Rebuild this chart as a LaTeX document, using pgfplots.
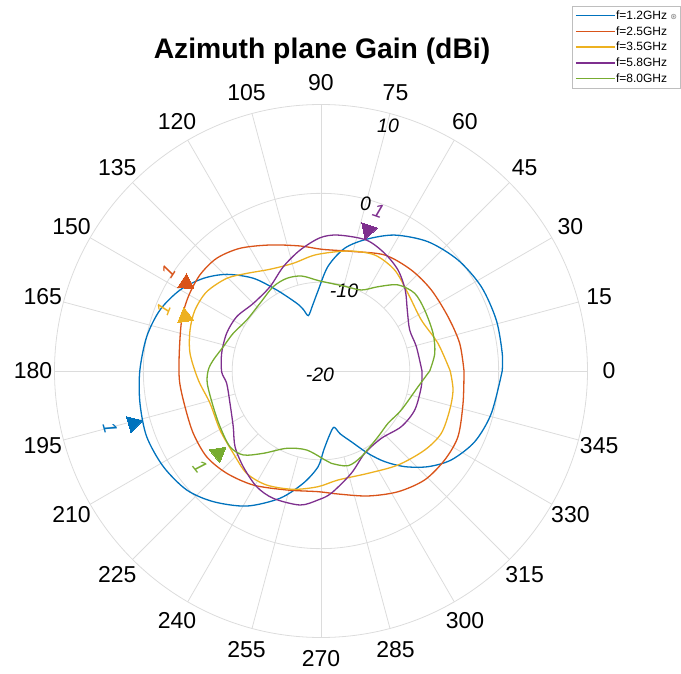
\documentclass[border=0pt]{standalone}
\usepackage{pgfplots}
\pgfplotsset{compat=1.18}
\usepgfplotslibrary{polar}
\usepackage{fontspec}
\setmainfont{Liberation Sans}
\newfontfamily\dejavu{DejaVu Sans}
\definecolor{mblue}{RGB}{0,114,189}
\definecolor{morange}{RGB}{217,83,25}
\definecolor{myellow}{RGB}{237,177,32}
\definecolor{mpurple}{RGB}{126,47,142}
\definecolor{mgreen}{RGB}{119,172,48}
\definecolor{gridgray}{RGB}{220,220,220}
\definecolor{leggray}{RGB}{190,190,190}
\begin{document}
\begin{tikzpicture}
\useasboundingbox (0pt,0pt) rectangle (681pt,673pt);
\node[font=\fontsize{28.3}{29}\selectfont\bfseries, anchor=base] at (322pt,614.5pt) {Azimuth plane Gain (dBi)};
\begin{polaraxis}[
  at={(321pt,302pt)}, anchor=center,
  width=533pt, height=533pt, scale only axis,
  xmin=0, xmax=360, ymin=0, ymax=30,
  xtick=\empty, ytick={10,20}, yticklabels={},
  ymajorgrids, y grid style={gridgray, line width=0.8pt},
  axis line style={draw=gridgray, line width=0.8pt},
  major tick length=0pt,
  clip=false,
  every axis plot/.append style={line width=1.3pt, smooth, tension=0.5, y filter/.expression={y+20}},
  legend style={at={(0.9709,1.1848)}, anchor=north west, draw=leggray, fill=white,
    font=\fontsize{12}{12}\selectfont, inner xsep=3pt, inner ysep=4pt, row sep=4.5pt,
    nodes={inner sep=0.5pt, anchor=west},
    /tikz/every even column/.append style={column sep=1.5pt}},
  legend cell align=left,
  legend image code/.code={\draw[#1, line width=1.4pt] (0pt,0pt) -- (39pt,0pt);},
]
\pgfplotsinvokeforeach{0,15,...,345}{\draw[gridgray, line width=0.8pt] (axis cs:#1,10) -- (axis cs:#1,30);}
\pgfplotsinvokeforeach{0,15,...,345}{\node[font=\fontsize{23}{23}\selectfont, inner sep=0pt] at (axis cs:#1,32.42) {#1};}
\node[font=\fontsize{19.5}{20}\selectfont\itshape, inner sep=0pt] at (axis cs:74.7,28.6) {10};
\node[font=\fontsize{19.5}{20}\selectfont\itshape, inner sep=0pt] at (axis cs:75.1,19.5) {0};
\node[font=\fontsize{19.5}{20}\selectfont\itshape, inner sep=0pt] at (axis cs:74,9.42) {-10};
\node[font=\fontsize{19.5}{20}\selectfont\itshape, inner sep=0pt, yshift=-4pt, xshift=-1pt] at (axis cs:0,0) {-20};

% f = 1.2 GHz
\addplot[mblue] coordinates {
(0,0.4)(5.6,0.5)(16.2,0.55)(27.7,0.39)(39,-0.15)(50.4,-1.11)(61.5,-2.59)(71,-4.32)(79.1,-5.93)(86.2,-8.2)(92.2,-11.0)(97.5,-12.6)(102.9,-13.6)(106,-12.8)(109.7,-11.9)(118.7,-9.6)(126.1,-7.08)(134.3,-4.8)(141.8,-3.14)(150.1,-1.7)(159.2,-0.62)(168.9,0.0)(180,0.4)(190.1,0.7)(200.6,0.97)(211.2,0.76)(221.5,0.2)(230.5,-0.94)(241.2,-2.65)(252.1,-4.94)(261,-7.2)(268.2,-9.2)(272,-11.1)(277.5,-12.7)(283,-13.5)(287,-12.6)(293.2,-11.34)(299.7,-9.33)(305.1,-7.53)(311.2,-5.69)(318.2,-3.84)(325.7,-2.24)(335.3,-0.95)(346,-0.24)(360,0.4)};
\addlegendentry{f=1.2GHz {\dejavu\fontsize{8}{8}\selectfont\color{gray}⊛}}
% f = 2.5 GHz
\addplot[morange] coordinates {
(0,-3.9)(11.3,-4.08)(23.2,-4.45)(36.3,-4.59)(48.2,-4.75)(61.2,-5.1)(75.6,-6.1)(89.5,-6.3)(99.5,-5.73)(112,-4.7)(123.4,-3.45)(132.8,-2.71)(141.6,-2.6)(150.8,-2.88)(159.9,-3.3)(172.9,-3.92)(184,-4.03)(194.7,-4.17)(206,-4.0)(216.9,-3.91)(227.3,-4.34)(239.3,-5.07)(253.9,-6.06)(268.6,-6.41)(277.9,-6.02)(290.6,-4.97)(302.5,-3.88)(313.6,-3.07)(324.3,-2.85)(334.4,-2.9)(347.2,-3.6)(360,-3.9)};
\addlegendentry{f=2.5GHz}
% f = 3.5 GHz
\addplot[myellow] coordinates {
(0,-5.45)(13.3,-6.47)(27,-7.33)(41.8,-6.87)(53.9,-5.93)(65.2,-5.61)(77.3,-6.15)(92.5,-6.9)(104.4,-7.48)(116.6,-7.19)(127.3,-6.19)(135.5,-5.12)(145.3,-4.34)(154.2,-4.24)(162.6,-4.55)(172.3,-5.12)(184.2,-6.15)(196.2,-6.99)(210.3,-6.83)(223.2,-6.46)(234,-5.76)(244.5,-5.78)(256.8,-6.32)(268.5,-6.97)(278.9,-7.58)(294.7,-7.32)(309.3,-6.32)(322.7,-5.32)(332.6,-4.75)(343.1,-4.86)(351.8,-4.98)(360,-5.45)};
\addlegendentry{f=3.5GHz}
% f = 5.8 GHz
\addplot[mpurple] coordinates {
(0,-8.63)(14.3,-8.92)(24.8,-9.0)(35.3,-8.1)(43.9,-6.84)(52.7,-5.7)(61.6,-4.94)(70.9,-4.4)(82.9,-4.58)(90.4,-5.0)(99.8,-6.18)(109.9,-7.52)(121.2,-8.91)(135,-9.23)(147.2,-8.71)(158.2,-8.56)(169.9,-8.64)(180.6,-8.82)(187.4,-9.29)(199.5,-9.13)(212.4,-8.3)(221.4,-7.1)(230.9,-6.12)(240.9,-5.1)(249.5,-4.69)(261.1,-4.73)(268.7,-5.48)(274.8,-6.19)(286.5,-7.99)(297.9,-9.5)(311.9,-9.82)(325.3,-9.0)(337.4,-8.57)(351.1,-8.57)(360,-8.63)};
\addlegendentry{f=5.8GHz}
% f = 8.0 GHz
\addplot[mgreen] coordinates {
(0,-7.76)(8.8,-7.04)(18.6,-6.69)(30.5,-6.46)(39.7,-6.3)(48.2,-7.0)(55.9,-8.54)(63.5,-9.81)(75,-10.1)(91,-9.85)(101.5,-9.09)(110.3,-8.88)(119.5,-9.09)(132,-9.74)(145.5,-9.86)(156.7,-9.25)(166,-8.67)(174.2,-7.81)(179.5,-7.31)(186.2,-7.12)(198.3,-7.22)(208.9,-7.02)(219.8,-6.67)(227.2,-7.12)(235,-8.69)(246.1,-10.48)(259.7,-10.96)(272.6,-9.97)(276.4,-9.54)(285.9,-8.91)(295.2,-9.34)(310.9,-10.2)(322,-10.43)(334.1,-9.95)(350.8,-8.93)(360,-7.76)};
\addlegendentry{f=8.0GHz}

% peak markers
\addplot[forget plot, draw=none, mark=triangle*, mark size=9.5pt, mark options={fill=mblue, draw=mblue, line width=0pt, rotate=285.6}] coordinates {(195.6,1.93)};
\addplot[forget plot, draw=none, mark=triangle*, mark size=9.5pt, mark options={fill=morange, draw=morange, line width=0pt, rotate=237}] coordinates {(147,-1.88)};
\addplot[forget plot, draw=none, mark=triangle*, mark size=9.5pt, mark options={fill=myellow, draw=myellow, line width=0pt, rotate=248.2}] coordinates {(158.2,-3.52)};
\addplot[forget plot, draw=none, mark=triangle*, mark size=9.5pt, mark options={fill=mpurple, draw=mpurple, line width=0pt, rotate=161.5}] coordinates {(71.5,-3.26)};
\addplot[forget plot, draw=none, mark=triangle*, mark size=9.5pt, mark options={fill=mgreen, draw=mgreen, line width=0pt, rotate=308.7}] coordinates {(218.7,-5.18)};
\node[font=\fontsize{19}{19}\selectfont\itshape, text=mblue, rotate=-74.8, inner sep=0pt] at (axis cs:195.2,24.6) {1};
\node[font=\fontsize{19}{19}\selectfont\itshape, text=morange, rotate=57, inner sep=0pt] at (axis cs:147,20.5) {1};
\node[font=\fontsize{19}{19}\selectfont\itshape, text=myellow, rotate=68.6, inner sep=0pt] at (axis cs:158.6,19.06) {1};
\node[font=\fontsize{19}{19}\selectfont\itshape, text=mpurple, rotate=-19.3, inner sep=0pt] at (axis cs:70.2,19.1) {1};
\node[font=\fontsize{19}{19}\selectfont\itshape, text=mgreen, rotate=-51.7, inner sep=0pt] at (axis cs:218.3,17.37) {1};
\end{polaraxis}
\end{tikzpicture}
\end{document}
